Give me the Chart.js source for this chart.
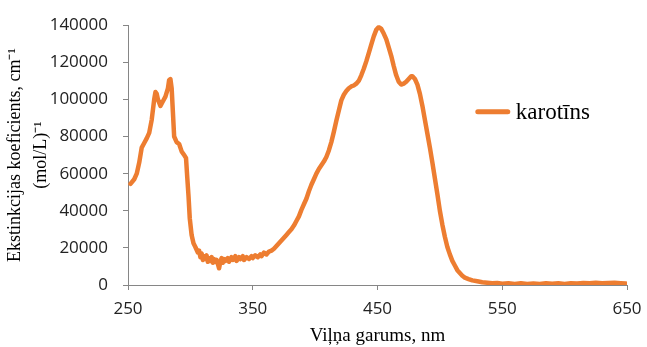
<!DOCTYPE html>
<html>
<head>
<meta charset="utf-8">
<style>
  html, body { margin: 0; padding: 0; background: #fff; }
  #wrap { width: 647px; height: 347px; position: relative; }
</style>
</head>
<body>
<div id="wrap"><canvas id="spectrs"></canvas></div>
<script src="https://cdn.jsdelivr.net/npm/chart.js@4/dist/chart.umd.min.js"></script>
<script>
// vilnu garums, nm
var vilnis = [252,255,257,259,261,263,265,267,269,271,272,273,274,276,278,280,282,283,284,285,
  286,287,289,291,293,295,296.5,297.5,298.5,299.5,301,302.5,304,306,307,308,309,310,311,312,
  313,314,315,316,317,318,319,320,321,322,323,324,325,326,327,328,330,331,333,334,
  336,337,339,340,342,343,345,347,349,350,352,354,356,357,359,361,363,365,367,369,
  371,373,375,377,379,381,383,385,387,389,391,393,395,397,399,401,403,405,407,409,
  411,413,415,417,419,421,423,425,427,429,431,433,435,437,439,441,443,445,447,449,
  451,453,455,457,459,461,463,465,467,469,471,473,475,477,478,480,482,484,486,488,
  490,492,494,496,498,500,502,504,506,508,510,512,514,516,518,520,523,526,530,534,
  538,542,546,550,555,560,565,570,575,580,585,590,595,600,605,610,615,620,625,630,
  635,640,645,649];
// ekstinkcijas koeficients
var karotins = [54500,57000,60000,66000,74000,76500,79000,82000,89000,100000,104000,103000,100000,96500,99000,101500,106000,110500,111000,106000,
  93000,80000,77000,76000,72000,70000,68500,58000,48000,36000,27000,22500,20500,17500,18500,15000,17000,13500,15500,14000,
  16000,12500,14500,13000,15000,12000,14000,12500,13500,11500,9000,12500,14500,12000,14000,13000,14500,12500,15000,13500,
  15500,13000,15000,14000,15500,13500,15000,14000,15500,14500,16000,15000,16500,15500,17500,16500,18000,18500,19500,21000,
  22500,24000,25500,27000,28500,30000,32000,34500,37000,40500,43500,46500,50500,54000,57000,60000,62500,64500,66500,69000,
  72500,77000,82500,88500,94000,99500,102500,104500,106000,107000,107500,108500,110000,113000,116500,120500,125000,129500,134000,137500,
  139000,138000,135500,132500,128000,123500,118000,113000,109500,108000,108500,109500,111000,112500,112500,111000,108000,103000,96500,89000,
  81500,74000,66000,57500,49000,40000,32500,26000,20500,16500,13000,10500,8000,6500,5000,4000,3200,2500,2000,1500,
  1200,900,1100,700,1000,600,900,500,800,600,1000,700,900,600,1000,800,1100,900,1200,900,
  1100,1200,1000,800];
var xTicks = [250,350,450,550,650];
var yTicks = [0,20000,40000,60000,80000,100000,120000,140000];
var nosaukums = 'karotīns';

var punkti = [];
for (var i = 0; i < vilnis.length; i++) {
  punkti.push({x: vilnis[i], y: karotins[i]});
}

var oranzs = '#ED7D31';
var asis = '#868686';

// legenda iekš zīmēšanas laukuma
var legendaPlugin = {
  id: 'legendaIeksa',
  afterDraw: function(chart) {
    var a = chart.chartArea;
    var ctx = chart.ctx;
    var x0 = a.left + (a.right - a.left) * 0.701;
    var y0 = a.top + (a.bottom - a.top) * 0.333;
    ctx.save();
    ctx.strokeStyle = oranzs;
    ctx.lineWidth = 5;
    ctx.lineCap = 'round';
    ctx.beginPath();
    ctx.moveTo(x0, y0);
    ctx.lineTo(x0 + 30, y0);
    ctx.stroke();
    ctx.fillStyle = '#000';
    ctx.font = '23px "Liberation Serif"';
    ctx.textBaseline = 'middle';
    ctx.fillText(nosaukums, x0 + 38, y0 + 1);
    ctx.restore();
  }
};

function bezKomatiem(v) { return String(v); }

var ctx = document.getElementById('spectrs').getContext('2d');
var chart = new Chart(ctx, {
  type: 'line',
  data: {
    datasets: [{
      label: nosaukums,
      data: punkti,
      borderColor: oranzs,
      backgroundColor: oranzs,
      borderWidth: 4.5,
      pointRadius: 0,
      tension: 0,
      borderCapStyle: 'round',
      borderJoinStyle: 'round'
    }]
  },
  plugins: [legendaPlugin],
  options: {
    responsive: true,
    maintainAspectRatio: false,
    animation: false,
    layout: { padding: { top: 24, right: 20, left: 0, bottom: 0 } },
    plugins: {
      legend: { display: false },
      tooltip: { enabled: false }
    },
    scales: {
      x: {
        type: 'linear',
        min: 250,
        max: 650,
        afterBuildTicks: function(s) { s.ticks = xTicks.map(function(v){ return {value: v}; }); },
        afterFit: function(s) { s.height = 62; s.paddingRight = 0; s.paddingLeft = 0; },
        grid: { drawOnChartArea: false, color: asis, tickLength: 5 },
        border: { color: asis, width: 1 },
        ticks: {
          color: '#222',
          font: { family: '"Open Sans"', size: 17 },
          padding: 9,
          maxRotation: 0,
          callback: bezKomatiem
        },
        title: {
          display: true,
          text: 'Viļņa garums, nm',
          color: '#000',
          font: { family: '"Liberation Serif"', size: 19 },
          padding: { top: 0, bottom: 0 }
        }
      },
      y: {
        min: 0,
        max: 140000,
        afterBuildTicks: function(s) { s.ticks = yTicks.map(function(v){ return {value: v}; }); },
        afterFit: function(s) { s.width = 128; },
        grid: { drawOnChartArea: false, color: asis, tickLength: 5 },
        border: { color: asis, width: 1 },
        ticks: {
          color: '#222',
          font: { family: '"Open Sans"', size: 17 },
          padding: 15,
          callback: bezKomatiem
        },
        title: {
          display: true,
          text: ['Ekstinkcijas koeficients, cm⁻¹', '(mol/L)⁻¹'],
          color: '#000',
          font: { family: '"Liberation Serif"', size: 18, lineHeight: 1.4 },
          padding: { top: 3, bottom: 0 }
        }
      }
    }
  }
});
</script>
</body>
</html>
